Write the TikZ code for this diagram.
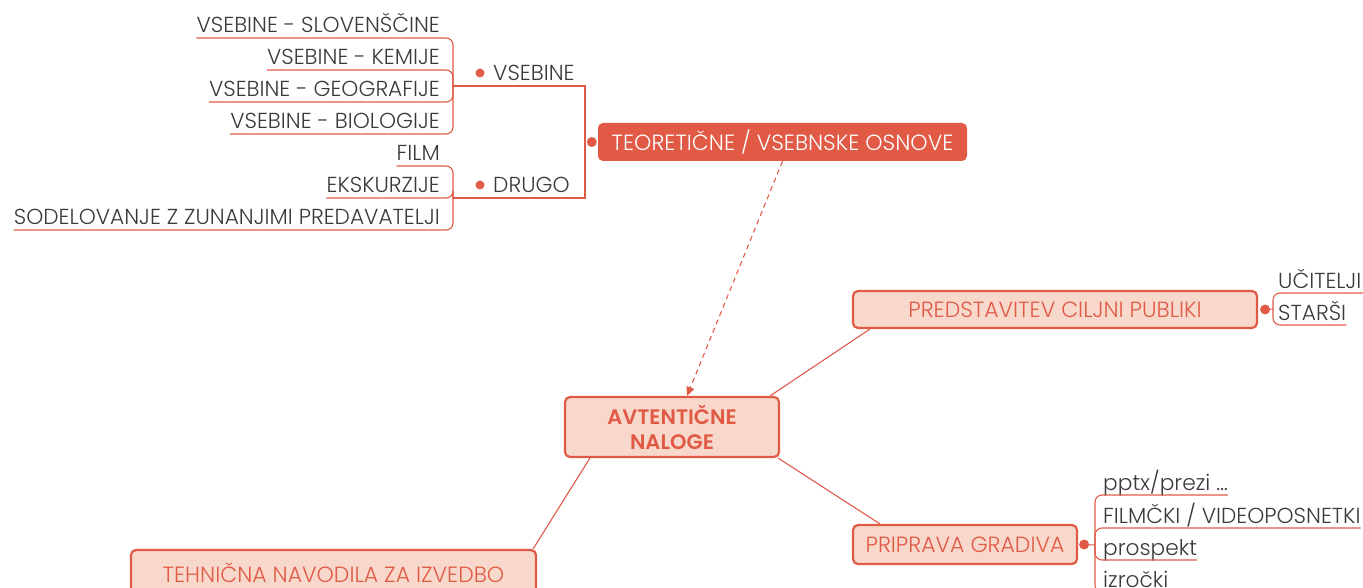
\documentclass[tikz,border=0pt]{standalone}
\usepackage{fontspec}
\setmainfont{Poppins}[UprightFont={* Light}]
\usetikzlibrary{arrows.meta}
\definecolor{mapred}{HTML}{E05A46}
\definecolor{mappink}{HTML}{F8D8CB}
\definecolor{leafgray}{HTML}{3A3A3A}
\begin{document}
\begin{tikzpicture}[x=1pt,y=-1pt,
    topic/.style={draw=mapred,line width=2.2pt,fill=mappink,rounded corners=5pt,
      text=mapred,align=center,font=\fontsize{22}{25}\selectfont},
    central/.style={fill=mapred,rounded corners=5pt,text=white,
      font=\fontsize{22}{25}\selectfont},
    leaf/.style={text=leafgray,inner sep=0pt,font=\fontsize{21.7}{24}\selectfont},
    branch/.style={draw=mapred,line width=1.1pt},
    knob/.style={circle,fill=mapred,inner sep=0pt,minimum size=10pt}]
  \useasboundingbox (0,0) rectangle (1363,588);
  % Definitions
  \def\gap{5}
  % Main topics
  \node[central,minimum width=369pt,minimum height=38pt] (teo) at (782.5,142) {TEORETIČNE / VSEBNSKE OSNOVE};
  \node[topic,minimum width=214pt,minimum height=60pt,font=\fontsize{21}{25}\selectfont\bfseries] (avt) at (672,427) {AVTENTIČNE\\NALOGE};
  \node[topic,minimum width=404pt,minimum height=37pt] (pred) at (1055,309.5) {PREDSTAVITEV CILJNI PUBLIKI};
  \node[topic,minimum width=224pt,minimum height=39pt] (prip) at (965,544.5) {PRIPRAVA GRADIVA};
  \node[topic,minimum width=405pt,minimum height=46pt] (teh) at (333.5,573) {TEHNIČNA NAVODILA ZA IZVEDBO};
  % Knobs
  \node[knob] (teok) at ([xshift=-6pt]teo.west) {};
  \node[knob] (predk) at ([xshift=7pt]pred.east) {};
  \node[knob] (pripk) at ([xshift=6pt]prip.east) {};
  % Links between topics
  \draw[branch,dashed,dash pattern=on 5pt off 4pt,-{Triangle[length=9pt,width=8pt]}] (teo.south) -- ([xshift=15pt]avt.north);
  \draw[branch] ([xshift=-10pt]avt.north east) -- ([xshift=18pt]pred.south west);
  \draw[branch] ([xshift=-2pt]avt.south east) -- ([xshift=28pt]prip.north west);
  \draw[branch] ([xshift=26pt]avt.south west) -- ([xshift=-4pt]teh.north east);
  % Left side: VSEBINE and DRUGO
  \node[leaf,anchor=base west] (vsb) at (493,81) {VSEBINE};
  \node[leaf,anchor=base west] (drg) at (493,193) {DRUGO};
  \node[knob,minimum size=9pt] (vsbk) at (480,73) {};
  \node[knob,minimum size=9pt] (drgk) at (480,185) {};
  \coordinate (vsbg) at (453,86);
  \coordinate (drgg) at (453,198);
  \coordinate (tj) at (585,142);
  \draw[branch] (vsbg) -- (vsbg -| tj) -- (drgg -| tj) -- (drgg);
  \foreach \i/\y/\txt in {1/33/VSEBINE - SLOVENŠČINE,2/65/VSEBINE - KEMIJE,
      3/97/VSEBINE - GEOGRAFIJE,4/129/VSEBINE - BIOLOGIJE} {
    \node[leaf,anchor=base east] (v\i) at (440,\y) {\txt};
    \draw[branch,rounded corners=7pt] (vsbg) |- ([yshift=-\gap pt]v\i.base west);
  };
  \foreach \i/\y/\txt in {1/161/FILM,2/193/EKSKURZIJE,
      3/225/SODELOVANJE Z ZUNANJIMI PREDAVATELJI} {
    \node[leaf,anchor=base east] (d\i) at (440,\y) {\txt};
    \draw[branch,rounded corners=7pt] (drgg) |- ([yshift=-\gap pt]d\i.base west);
  };
  % Right side: target audience
  \coordinate (predg) at (1273,309);
  \draw[branch] (predk) -- (predg);
  \node[leaf,anchor=base west] (u1) at (1278,288) {UČITELJI};
  \node[leaf,anchor=base west] (u2) at (1278,320) {STARŠI};
  \draw[branch,rounded corners=7pt] (predg) |- ([yshift=-\gap pt,xshift=6pt]u1.base east);
  \draw[branch,rounded corners=7pt] (predg) |- ([yshift=-\gap pt]u2.base east);
  % Right side: material
  \coordinate (pripg) at (1095,545);
  \draw[branch] (pripk) -- (pripg);
  \foreach \i/\y/\txt in {1/490/{pptx/prezi \dots},2/523/{FILMČKI / VIDEOPOSNETKI},
      3/555/prospekt,4/587/izročki} {
    \node[leaf,anchor=base west] (g\i) at (1103,\y) {\txt};
    \draw[branch,rounded corners=7pt] (pripg) |- ([yshift=-\gap pt]g\i.base east);
  };
\end{tikzpicture}
\end{document}
